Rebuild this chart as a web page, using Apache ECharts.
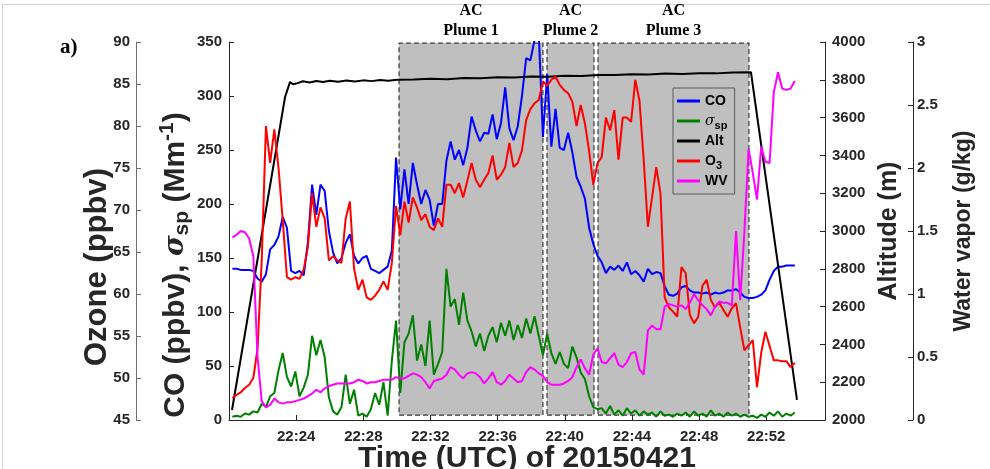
<!DOCTYPE html>
<html>
<head>
<meta charset="utf-8">
<script src="https://cdn.jsdelivr.net/npm/echarts@6/dist/echarts.min.js"></script>
<style>
  html, body { margin: 0; padding: 0; background: #ffffff; }
  #chart { width: 990px; height: 469px; }
</style>
</head>
<body>
<div id="chart"></div>
<script>
// Sampling of the flight records: minutes after 22:00 UTC
const sampleStart = 20.2;
const sampleStep = 0.25;

// CO mixing ratio (ppbv)
const coPpbv = [
  140,140,139,139,139,138,131,128,135,158,
  162,170,188,178,138,136,138,134,165,218,
  190,218,212,175,155,145,150,164,172,152,
  145,150,152,140,138,136,139,142,157,243,
  195,232,200,238,218,200,213,204,180,200,
  200,240,258,241,250,236,252,281,268,258,
  266,265,283,260,275,308,270,259,272,300,
  335,333,352,358,262,320,253,288,252,250,
  266,248,225,216,205,178,163,152,146,136,
  142,139,143,138,146,135,138,134,128,140,
  135,137,136,124,116,115,117,123,124,120,
  118,118,117,118,116,118,117,118,120,120,
  121,118,114,113,113,114,116,120,130,138,
  142,142,143,143,143
];

// Aerosol scattering coefficient sigma_sp (Mm-1)
const sigmaSp = [
  3,4,3,6,5,8,7,15,12,22,
  25,46,62,40,31,45,22,30,42,78,
  60,74,58,21,8,5,12,42,15,28,
  4,6,3,10,25,14,35,4,55,92,
  25,72,80,97,55,70,50,92,42,52,
  63,140,105,112,88,118,92,82,68,80,
  64,78,86,72,90,78,92,74,88,76,
  94,80,96,78,60,80,62,52,63,52,
  48,68,58,44,38,22,12,10,11,6,
  13,5,9,4,11,6,9,4,8,5,
  7,3,8,4,5,3,6,4,7,3,
  8,4,6,3,9,4,6,3,7,4,
  6,3,5,3,4,2,5,3,7,4,
  8,3,6,4,7
];

// Ozone (ppbv)
const ozonePpbv = [
  47.6,48.0,48.3,48.8,49.2,50.0,53.5,64.0,80.0,75.6,
  79.6,75.0,68.8,62.0,61.7,62.0,61.8,62.9,65.6,72.0,
  68.0,70.3,69.0,64.0,64.5,64.0,63.7,69.0,71.0,63.0,
  60.5,61.7,59.6,59.3,59.8,60.5,61.5,60.5,63.7,70.5,
  67.0,71.0,68.5,71.5,70.3,68.8,69.5,68.0,67.6,69.0,
  68.0,73.0,73.0,72.0,73.2,71.5,73.5,75.6,73.6,72.7,
  73.6,74.4,76.5,73.6,74.2,75.1,78.0,75.1,75.6,77.1,
  80.7,82.0,82.7,83.1,85.3,84.8,85.5,85.9,84.9,84.3,
  83.9,82.9,80.0,82.5,80.3,77.0,73.0,75.6,76.3,81.0,
  79.5,81.9,76.0,81.0,81.0,80.5,85.5,83.0,76.0,68.0,
  71.5,75.1,72.0,59.6,58.4,57.9,57.3,63.2,62.5,57.5,
  56.5,57.3,61.0,61.7,59.3,58.4,59.0,58.1,57.3,58.3,
  58.9,56.0,53.3,53.9,54.5,48.9,53.0,55.5,53.8,52.1,
  52.1,52.0,52.0,51.3,51.8
];

// Water vapor mixing ratio (g/kg)
const waterVapor = [
  1.45,1.47,1.50,1.49,1.44,1.30,0.50,0.15,0.10,0.12,
  0.17,0.14,0.13,0.14,0.14,0.15,0.16,0.17,0.19,0.21,
  0.24,0.22,0.25,0.27,0.28,0.29,0.29,0.29,0.29,0.30,
  0.32,0.31,0.29,0.30,0.30,0.31,0.32,0.32,0.32,0.34,
  0.33,0.33,0.35,0.37,0.36,0.34,0.30,0.25,0.31,0.32,
  0.33,0.36,0.42,0.40,0.36,0.33,0.37,0.38,0.37,0.34,
  0.29,0.33,0.38,0.30,0.28,0.31,0.36,0.33,0.30,0.31,
  0.38,0.42,0.40,0.37,0.35,0.30,0.28,0.28,0.28,0.29,
  0.31,0.34,0.42,0.48,0.41,0.36,0.52,0.57,0.46,0.45,
  0.49,0.53,0.44,0.42,0.46,0.53,0.54,0.40,0.36,0.71,
  0.75,0.72,0.72,0.90,0.92,0.91,0.90,0.91,0.88,0.93,
  1.00,0.95,0.91,0.88,0.83,0.90,0.94,0.93,0.93,0.91,
  1.50,0.95,1.50,2.15,1.96,1.75,2.17,2.05,2.04,2.60,
  2.76,2.63,2.62,2.63,2.69
];

// Aircraft altitude (m) at its own sample times
const altMinutes = [20.18, 23.34, 23.63, 23.81, 24.0, 24.4, 24.8, 25.2, 25.6, 26.0, 26.5, 27.0, 27.5, 28.0, 28.5, 29.0, 29.5, 30.0,
  31, 32, 33, 34, 35, 36, 37, 38, 39, 40, 41, 42, 43, 44, 45, 46, 47, 48, 49, 50, 51.09, 53.83];
const altMeters = [2053, 3709, 3788, 3777, 3780, 3792, 3786, 3794, 3788, 3795, 3790, 3796, 3791, 3797, 3793, 3799, 3795, 3800,
  3802, 3806, 3803, 3810, 3808, 3814, 3812, 3818, 3816, 3822, 3820, 3826, 3825, 3830, 3828, 3833, 3831, 3835, 3834, 3838, 3840, 2106];

// Plume encounters (minutes after 22:00)
const plumeLabels = ['AC\nPlume 1', 'AC\nPlume 2', 'AC\nPlume 3'];
const plumeStart = [30.13, 38.94, 41.98];
const plumeEnd = [38.70, 41.74, 50.97];

// Time axis ticks
const timeTicks = [24, 28, 32, 36, 40, 44, 48, 52];

const sampleMinutes = coPpbv.map((_, i) => sampleStart + sampleStep * i);
const pairs = (vals) => vals.map((v, i) => [sampleMinutes[i], v]);

const FONT = 'Liberation Sans';
const INK = '#262626';
const tickLabel = { color: INK, fontFamily: FONT, fontWeight: 'bold', fontSize: 15 };

function valueAxis(extra) {
  return Object.assign({
    type: 'value',
    splitLine: { show: false },
    axisLine: { show: true, lineStyle: { color: INK, width: 1 } },
    axisTick: { show: true, inside: true, length: 5, lineStyle: { color: INK } },
    nameLocation: 'middle',
    nameRotate: 90,
  }, extra);
}

const chart = echarts.init(document.getElementById('chart'), null, { renderer: 'canvas' });

const option = {
  animation: false,
  backgroundColor: '#ffffff',
  title: {
    text: 'a)', left: 55, top: 32,
    textStyle: { fontFamily: 'Liberation Serif', fontWeight: 'bold', fontSize: 21, color: '#000' }
  },
  graphic: [
    { type: 'rect', silent: true, z: 0, shape: { x: 2.5, y: 4.5, width: 1200, height: 800 },
      style: { fill: 'none', stroke: '#d4d4d4', lineWidth: 1 } }
  ],
  grid: { left: 229, right: 165, top: 42, bottom: 49, containLabel: false, outerBoundsMode: 'none' },
  legend: {
    data: ['CO', 'σsp', 'Alt', 'O3', 'WV'],
    orient: 'vertical', left: 673, top: 88, z: 8,
    padding: [3, 4, 3, 4], itemGap: 0,
    itemWidth: 23, itemHeight: 3, icon: 'rect',
    borderColor: '#5a5a5a', borderWidth: 1,
    selectedMode: false,
    formatter: (n) => ({ 'CO': '{b|CO}{sub| }', 'σsp': '{it|σ}{sub|sp}', 'Alt': '{b|Alt}{sub| }', 'O3': '{b|O}{sub|3}', 'WV': '{b|WV}{sub| }' })[n],
    textStyle: {
      color: '#000',
      rich: {
        b: { fontFamily: FONT, fontWeight: 'bold', fontSize: 14, lineHeight: 20, color: '#000' },
        it: { fontFamily: 'DejaVu Serif', fontStyle: 'italic', fontSize: 14, lineHeight: 20, color: '#000' },
        sub: { fontFamily: FONT, fontWeight: 'bold', fontSize: 11, lineHeight: 11, padding: [9, 0, 0, 0], color: '#000' }
      }
    }
  },
  xAxis: {
    type: 'value', min: 20, max: 55.5, interval: 4,
    splitLine: { show: false },
    axisLine: { show: true, onZero: false, lineStyle: { color: INK } },
    axisTick: { show: true, inside: true, length: 5, lineStyle: { color: INK } },
    axisLabel: Object.assign({ margin: 9, formatter: (v) => timeTicks.includes(v) ? '22:' + v : '' }, tickLabel),
    name: 'Time (UTC) of 20150421', nameLocation: 'middle', nameGap: 24, nameMoveOverlap: false,
    nameTextStyle: { color: INK, fontFamily: FONT, fontWeight: 'bold', fontSize: 30, verticalAlign: 'top' }
  },
  yAxis: [
    valueAxis({
      position: 'left', offset: 0, min: 0, max: 350, interval: 50,
      axisLabel: Object.assign({ margin: 7 }, tickLabel),
      name: 'CO (ppbv), {it|σ}{sub|sp} (Mm{sup|-1})', nameGap: 35, nameMoveOverlap: false,
      nameTextStyle: {
        color: INK, fontFamily: FONT, fontWeight: 'bold', fontSize: 30, padding: [0, 68, 0, 0],
        rich: {
          it: { fontFamily: 'DejaVu Serif', fontStyle: 'italic', fontSize: 28, color: INK },
          sub: { fontFamily: FONT, fontWeight: 'bold', fontSize: 21, padding: [14, 0, 0, 0], color: INK },
          sup: { fontFamily: FONT, fontWeight: 'bold', fontSize: 21, padding: [0, 0, 16, 0], color: INK }
        }
      }
    }),
    valueAxis({
      position: 'left', offset: 93, min: 45, max: 90, interval: 5,
      axisLine: { show: true, lineStyle: { color: '#707070', width: 1 } },
      axisTick: { show: true, inside: true, length: 5, lineStyle: { color: '#707070' } },
      axisLabel: Object.assign({ margin: 6 }, tickLabel),
      name: 'Ozone (ppbv)', nameGap: 23, nameMoveOverlap: false,
      nameTextStyle: { color: INK, fontFamily: FONT, fontWeight: 'bold', fontSize: 31, padding: [0, 72, 0, 0] }
    }),
    valueAxis({
      position: 'right', offset: 0, min: 2000, max: 4000, interval: 200,
      axisLabel: Object.assign({ margin: 7, formatter: (v) => String(v) }, tickLabel),
      name: 'Altitude (m)', nameGap: 50,
      nameTextStyle: { color: INK, fontFamily: FONT, fontWeight: 'bold', fontSize: 25 }
    }),
    valueAxis({
      position: 'right', offset: 88, min: 0, max: 3, interval: 0.5,
      axisLabel: Object.assign({ margin: 4, formatter: (v) => String(v) }, tickLabel),
      name: 'Water vapor (g/kg)', nameGap: 39,
      nameTextStyle: { color: INK, fontFamily: FONT, fontWeight: 'bold', fontSize: 23 }
    })
  ],
  series: [
    {
      name: 'CO', type: 'line', yAxisIndex: 0, data: pairs(coPpbv), showSymbol: false, z: 2,
      lineStyle: { color: '#0000ff', width: 2 }, itemStyle: { color: '#0000ff' }
    },
    {
      name: 'σsp', type: 'line', yAxisIndex: 0, data: pairs(sigmaSp), showSymbol: false, z: 2,
      lineStyle: { color: '#008000', width: 2 }, itemStyle: { color: '#008000' }
    },
    {
      name: 'Alt', type: 'line', yAxisIndex: 2, data: altMinutes.map((t, i) => [t, altMeters[i]]), showSymbol: false, z: 2,
      lineStyle: { color: '#000000', width: 2 }, itemStyle: { color: '#000000' }
    },
    {
      name: 'O3', type: 'line', yAxisIndex: 1, data: pairs(ozonePpbv), showSymbol: false, z: 2,
      lineStyle: { color: '#ff0000', width: 2 }, itemStyle: { color: '#ff0000' }
    },
    {
      name: 'WV', type: 'line', yAxisIndex: 3, data: pairs(waterVapor), showSymbol: false, z: 2,
      lineStyle: { color: '#ff00ff', width: 2 }, itemStyle: { color: '#ff00ff' }
    },
    {
      name: 'plumes', type: 'line', yAxisIndex: 0, data: [], z: 3,
      markArea: {
        silent: true,
        itemStyle: { color: 'rgba(0,0,0,0.25)', borderColor: '#3a3a3a', borderWidth: 1.2, borderType: [5, 3] },
        label: {
          show: true, position: 'top', distance: 2, color: '#000',
          fontFamily: 'Liberation Serif', fontWeight: 'bold', fontSize: 16, lineHeight: 20, align: 'center'
        },
        data: plumeLabels.map((lab, i) => [
          { name: lab, xAxis: plumeStart[i], yAxis: 4.5 },
          { xAxis: plumeEnd[i], yAxis: 349 }
        ])
      }
    }
  ]
};

chart.setOption(option);
</script>
</body>
</html>
